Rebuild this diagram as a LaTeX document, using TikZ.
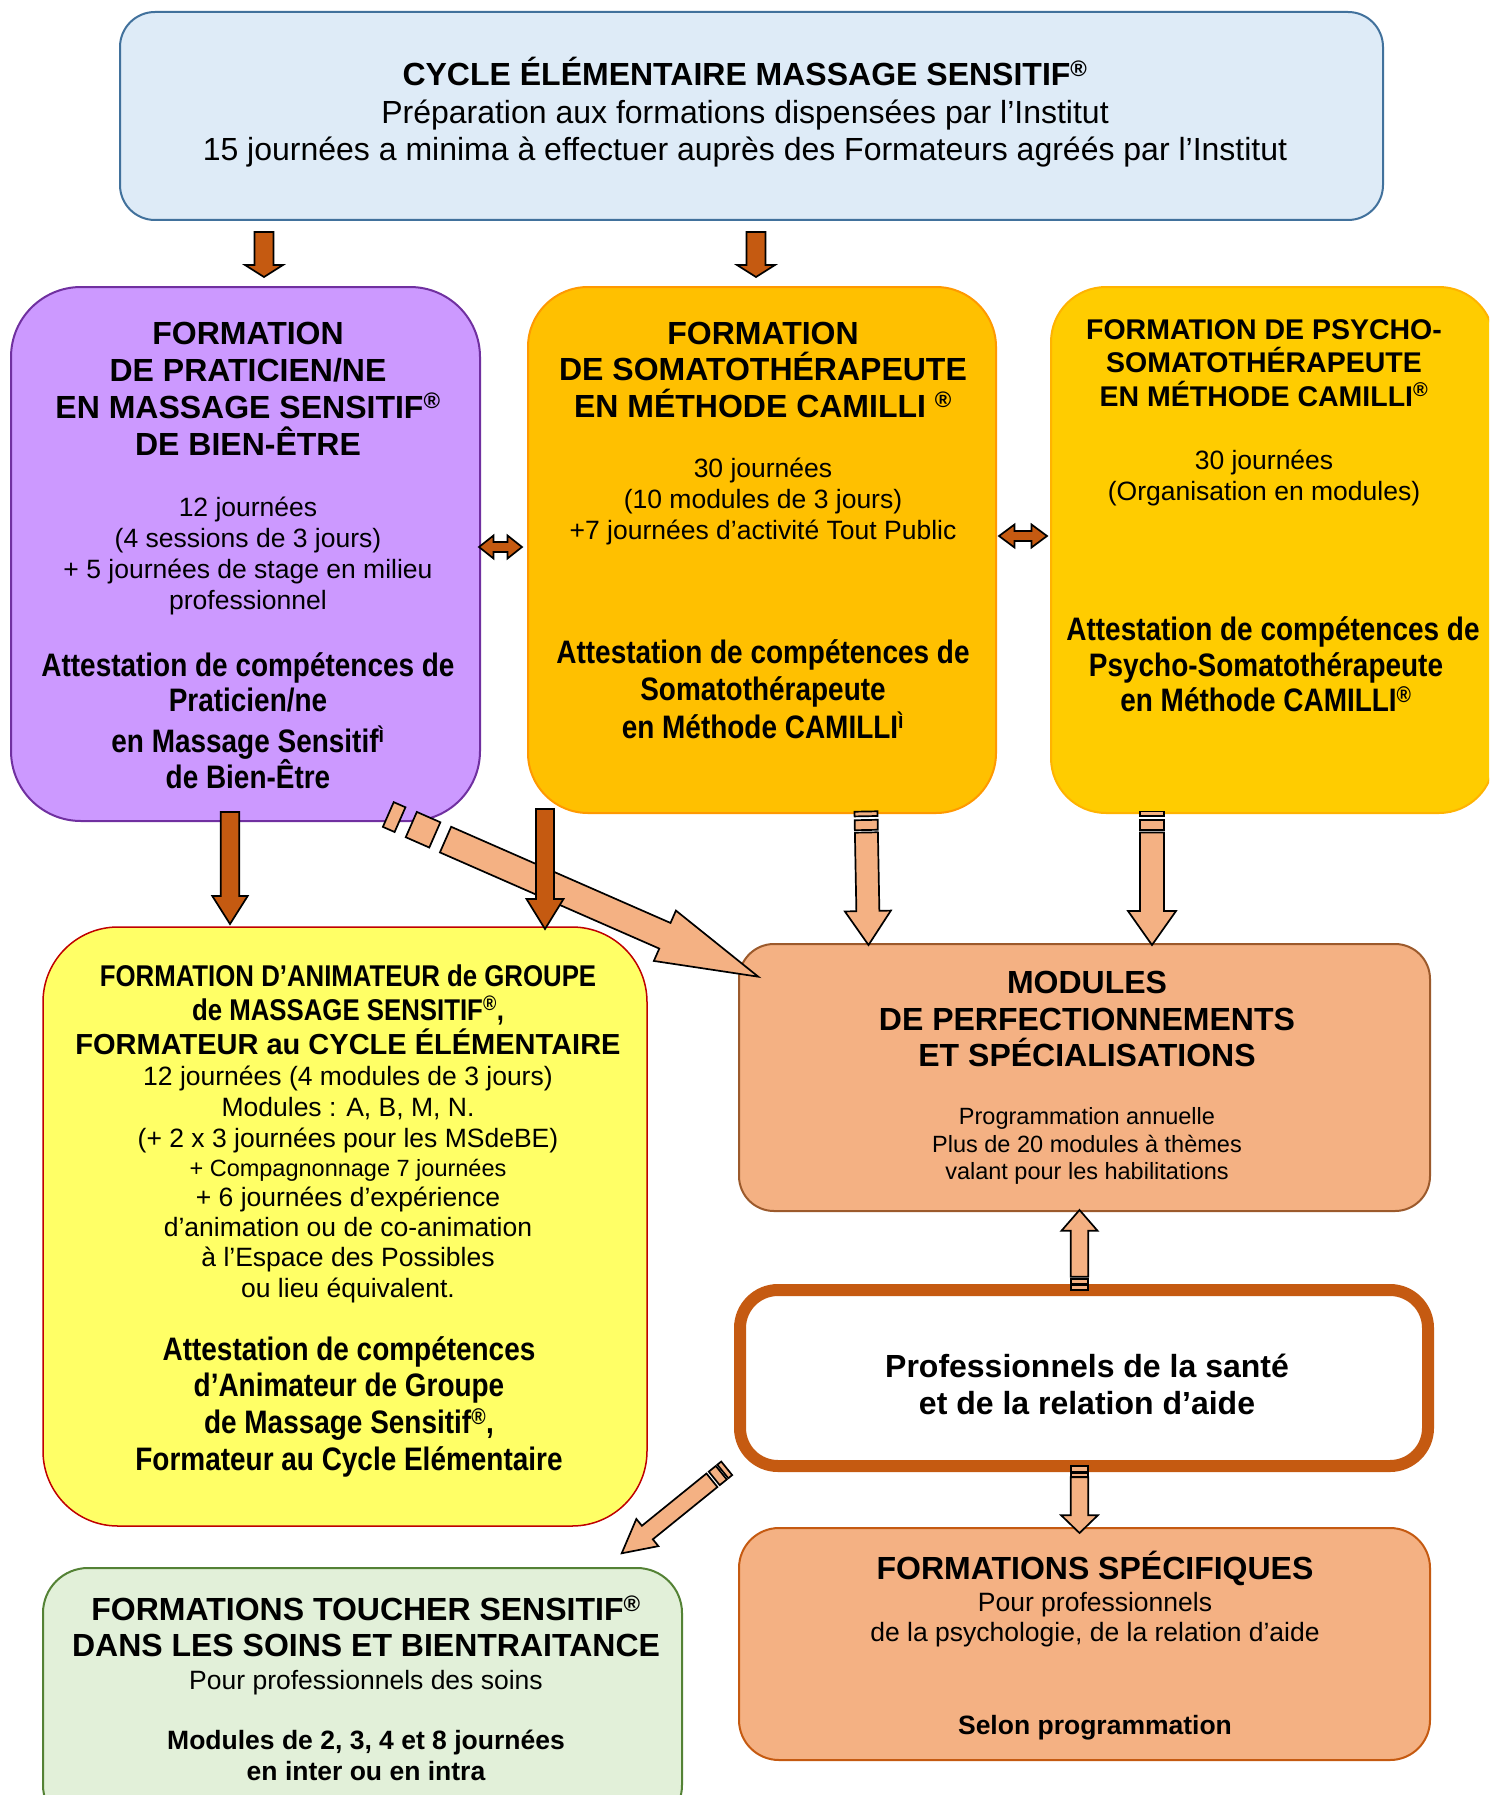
\documentclass[tikz,border=0pt]{standalone}
\usepackage{fontspec}
\setmainfont{Liberation Sans}
\newfontfamily\narrowfont[FakeStretch=0.86]{Liberation Sans}
\usetikzlibrary{calc}
\definecolor{topfill}{HTML}{DEEBF7}
\definecolor{topline}{HTML}{41719C}
\definecolor{purp}{HTML}{CC99FF}
\definecolor{purpline}{HTML}{7030A0}
\definecolor{orng}{HTML}{FFC000}
\definecolor{orngline}{HTML}{FF9900}
\definecolor{gold}{HTML}{FFCC00}
\definecolor{goldline}{HTML}{FFB300}
\definecolor{lyel}{HTML}{FFFF66}
\definecolor{redline}{HTML}{C00000}
\definecolor{salmon}{HTML}{F4B183}
\definecolor{brownline}{HTML}{9C5A2C}
\definecolor{rust}{HTML}{C55A11}
\definecolor{lgreen}{HTML}{E2F0D9}
\definecolor{greenline}{HTML}{548235}
% block arrow: tail, tip, shaft start, shaft half-width, head half-width, head length, fill
\newcommand{\barrow}[7]{%
  \coordinate (bs) at ($(#1)!#3!(#2)$);
  \coordinate (hb) at ($(#2)!#6!(#1)$);
  \draw[arrowshape, fill=#7] ($(bs)!#4!90:(#2)$) -- ($(hb)!#4!-90:(#1)$) -- ($(hb)!#5!-90:(#1)$) -- (#2) -- ($(hb)!#5!90:(#1)$) -- ($(hb)!#4!90:(#1)$) -- ($(bs)!#4!-90:(#2)$) -- cycle;}
% stripe: tail, tip, s1, s2, half-width
\newcommand{\bstripe}[5]{%
  \coordinate (ss) at ($(#1)!#3!(#2)$);
  \coordinate (se) at ($(#1)!#4!(#2)$);
  \draw[arrowshape, fill=salmon] ($(ss)!#5!90:(#2)$) -- ($(se)!#5!90:(#2)$) -- ($(se)!#5!-90:(#2)$) -- ($(ss)!#5!-90:(#2)$) -- cycle;}
% double arrow: end A, end B, shaft hw, head hw, head length, fill
\newcommand{\dbarrow}[6]{%
  \coordinate (ha) at ($(#1)!#5!(#2)$);
  \coordinate (hb) at ($(#2)!#5!(#1)$);
  \draw[arrowshape, fill=#6] (#1) -- ($(ha)!#4!90:(#2)$) -- ($(ha)!#3!90:(#2)$) -- ($(hb)!#3!-90:(#1)$) -- ($(hb)!#4!-90:(#1)$) -- (#2) -- ($(hb)!#4!90:(#1)$) -- ($(hb)!#3!90:(#1)$) -- ($(ha)!#3!-90:(#2)$) -- ($(ha)!#4!-90:(#2)$) -- cycle;}
% text lines: prefix, x, first baseline, spacing, style, list
\newcommand{\tlines}[6]{\foreach[count=\i] \ltxt in {#6}{\node[#5] (#1\i) at (#2,{#3+#4*(\i-1)}) {\ltxt};}}
\newcommand{\reg}{\textsuperscript{®}}
\begin{document}
\begin{tikzpicture}[x=1pt,y=-1pt,
  box/.style={rectangle, inner sep=0pt, line width=2pt},
  arrowshape/.style={draw=black, line width=1.7pt, line join=miter},
  tx/.style={anchor=base, inner sep=0pt},
  hb32/.style={tx, font=\fontsize{32}{38}\selectfont\bfseries},
  hb29/.style={tx, font=\fontsize{29}{34}\selectfont\bfseries},
  hb28/.style={tx, font=\fontsize{28.5}{33}\selectfont\bfseries},
  rg32/.style={tx, font=\fontsize{32}{38}\selectfont},
  rg26/.style={tx, font=\fontsize{26.5}{31}\selectfont},
  bd26/.style={tx, font=\fontsize{26.5}{31}\selectfont\bfseries},
  rg23/.style={tx, font=\fontsize{23.5}{28}\selectfont},
  nb31/.style={tx, font=\fontsize{32.5}{38}\selectfont\narrowfont\bfseries},
  nb29/.style={tx, font=\fontsize{30}{35}\selectfont\narrowfont\bfseries}]
\useasboundingbox (0,0) rectangle (1489,1795);
\clip (0,0) rectangle (1489,1795);
\fill[white] (0,0) rectangle (1489,1795);

% ---------- boxes ----------
\node[box, draw=topline, fill=topfill, rounded corners=35pt, minimum width=1263pt, minimum height=208pt] (top) at (751.5,116) {};
\node[box, draw=purpline, fill=purp, rounded corners=70pt, minimum width=469pt, minimum height=534pt] (prat) at (245.5,554) {};
\node[box, draw=orngline, fill=orng, rounded corners=60pt, minimum width=468pt, minimum height=526pt] (soma) at (762,550) {};
\node[box, draw=goldline, fill=gold, rounded corners=55pt, minimum width=443pt, minimum height=526pt] (psy) at (1272.5,550) {};
\node[box, draw=redline, fill=lyel, line width=1.5pt, rounded corners=75pt, minimum width=604pt, minimum height=599pt] (anim) at (345,1226.5) {};
\node[box, draw=brownline, fill=salmon, rounded corners=35pt, minimum width=691pt, minimum height=267pt] (mod) at (1084.5,1077.5) {};
\node[box, draw=rust, fill=white, line width=12pt, rounded corners=38pt, minimum width=688pt, minimum height=176pt] (pro) at (1084,1378) {};
\node[box, draw=rust, fill=salmon, rounded corners=40pt, minimum width=691pt, minimum height=232pt] (spe) at (1084.5,1644) {};
\node[box, draw=greenline, fill=lgreen, rounded corners=45pt, minimum width=639pt, minimum height=262pt] (tou) at (362.5,1699) {};

% ---------- texts ----------
\tlines{ta}{745}{86}{38}{hb32}{CYCLE ÉLÉMENTAIRE MASSAGE SENSITIF\reg}
\tlines{tb}{745}{124}{37}{rg32}{Préparation aux formations dispensées par l’Institut, 15 journées a minima à effectuer auprès des Formateurs agréés par l’Institut}

\tlines{pa}{248}{344}{37}{hb32}{FORMATION, DE PRATICIEN/NE, EN MASSAGE SENSITIF\reg, DE BIEN-ÊTRE}
\tlines{pb}{248}{516.5}{31}{rg26}{12 journées, (4 sessions de 3 jours), + 5 journées de stage en milieu, professionnel}
\node[nb31] (pc1) at (248,676) {Attestation de compétences de};
\node[nb31] (pc2) at (248,711) {Praticien/ne};
\node[nb31] (pc3) at (248,752) {en Massage Sensitif\textsuperscript{ì}};
\node[nb31] (pc4) at (248,788) {de Bien-Être};

\tlines{sa}{763}{344}{36.5}{hb32}{FORMATION, DE SOMATOTHÉRAPEUTE, EN MÉTHODE CAMILLI \reg}
\tlines{sb}{763}{477.5}{31}{rg26}{30 journées, (10 modules de 3 jours), +7 journées d’activité Tout Public}
\tlines{sc}{763}{663}{37.5}{nb31}{Attestation de compétences de, Somatothérapeute, en Méthode CAMILLI\textsuperscript{ì}}

\tlines{ya}{1264}{339}{33.5}{hb28}{FORMATION DE PSYCHO-, SOMATOTHÉRAPEUTE, EN MÉTHODE CAMILLI\reg}
\tlines{yb}{1264}{469.5}{31}{rg26}{30 journées, (Organisation en modules)}
\node[nb31] (yc1) at (1273,640.5) {Attestation de compétences de};
\node[nb31] (yc2) at (1266,676) {Psycho-Somatothérapeute};
\node[nb31] (yc3) at (1266,711.5) {en Méthode CAMILLI\reg};

\tlines{aa}{348}{986.5}{33.5}{nb29}{FORMATION D’ANIMATEUR de GROUPE, {de MASSAGE SENSITIF\reg,}}
\node[hb29] (ab) at (348,1054) {FORMATEUR au CYCLE ÉLÉMENTAIRE};
\tlines{ac}{348}{1085.5}{30.75}{rg26}{12 journées (4 modules de 3 jours), {Modules : A, B, M, N.}, (+ 2 x 3 journées pour les MSdeBE)}
\node[rg23] (ad) at (348,1176) {+ Compagnonnage 7 journées};
\tlines{ae}{348}{1206.5}{30.2}{rg26}{+ 6 journées d’expérience, d’animation ou de co-animation, à l’Espace des Possibles, ou lieu équivalent.}
\tlines{af}{349}{1360}{36.7}{nb31}{Attestation de compétences, d’Animateur de Groupe, {de Massage Sensitif\reg,}, Formateur au Cycle Elémentaire}

\tlines{ma}{1087}{993.5}{36.5}{hb32}{MODULES, DE PERFECTIONNEMENTS, ET SPÉCIALISATIONS}
\tlines{mb}{1087}{1124.5}{27.5}{rg23}{Programmation annuelle, Plus de 20 modules à thèmes, valant pour les habilitations}

\tlines{ra}{1087}{1377}{37.5}{hb32}{Professionnels de la santé, et de la relation d’aide}

\node[hb32] (fa) at (1095,1579.5) {FORMATIONS SPÉCIFIQUES};
\tlines{fb}{1095}{1611.5}{30}{rg26}{Pour professionnels, {de la psychologie, de la relation d’aide}}
\node[bd26] (fc) at (1095,1734.5) {Selon programmation};

\tlines{ga}{366}{1620.5}{35.5}{hb32}{FORMATIONS TOUCHER SENSITIF\reg, DANS LES SOINS ET BIENTRAITANCE}
\node[rg26] (gb) at (366,1689.5) {Pour professionnels des soins};
\tlines{gc}{366}{1749}{31}{bd26}{{Modules de 2, 3, 4 et 8 journées}, en inter ou en intra}

% ---------- arrow end points ----------
\coordinate (a1s) at (264,232);   \coordinate (a1e) at (264,277);
\coordinate (a2s) at (756,232);   \coordinate (a2e) at (756,277);
\coordinate (d1s) at (479,547);   \coordinate (d1e) at (522,547);
\coordinate (d2s) at (999,536);   \coordinate (d2e) at (1047,536);
\coordinate (b1s) at (230,812);   \coordinate (b1e) at (230,924);
\coordinate (b2s) at (545,809);   \coordinate (b2e) at (545,929);
\coordinate (g1s) at (388.3,814.5); \coordinate (g1e) at (758.3,976.7);
\coordinate (v1s) at (866,811.5); \coordinate (v1e) at (868.5,945);
\coordinate (v2s) at (1152,811.5); \coordinate (v2e) at (1152,945);
\coordinate (u1s) at (1079.5,1290); \coordinate (u1e) at (1079.5,1210);
\coordinate (w1s) at (1079.5,1466); \coordinate (w1e) at (1079.5,1533);
\coordinate (x1s) at (726.7,1468.3); \coordinate (x1e) at (621.7,1553.3);

% ---------- arrows ----------
\barrow{a1s}{a1e}{0pt}{9.5pt}{19pt}{12pt}{rust}
\barrow{a2s}{a2e}{0pt}{9.5pt}{19pt}{12pt}{rust}
\dbarrow{d1s}{d1e}{5pt}{11.5pt}{14.5pt}{rust}
\dbarrow{d2s}{d2e}{5pt}{11.5pt}{15.5pt}{rust}

% salmon diagonal (under dark arrow)
\bstripe{g1s}{g1e}{0pt}{12.8pt}{13.5pt}
\bstripe{g1s}{g1e}{25.1pt}{50.8pt}{13.8pt}
\barrow{g1s}{g1e}{62.5pt}{14pt}{27.5pt}{102pt}{salmon}

\barrow{b1s}{b1e}{0pt}{9.2pt}{17.7pt}{28pt}{rust}
\barrow{b2s}{b2e}{0pt}{9pt}{18.5pt}{30pt}{rust}

\bstripe{v1s}{v1e}{0pt}{4.7pt}{11.5pt}
\bstripe{v1s}{v1e}{8.5pt}{18.5pt}{11.5pt}
\barrow{v1s}{v1e}{21pt}{11.5pt}{23pt}{34pt}{salmon}
\bstripe{v2s}{v2e}{0pt}{4.7pt}{12pt}
\bstripe{v2s}{v2e}{8.5pt}{18.5pt}{12pt}
\barrow{v2s}{v2e}{21pt}{12pt}{24pt}{34pt}{salmon}

\bstripe{u1s}{u1e}{0pt}{5pt}{8.7pt}
\bstripe{u1s}{u1e}{6pt}{11pt}{8.7pt}
\barrow{u1s}{u1e}{13.3pt}{8.7pt}{18pt}{20.7pt}{salmon}

\bstripe{w1s}{w1e}{0pt}{5.7pt}{8.7pt}
\bstripe{w1s}{w1e}{6.7pt}{10.7pt}{8.7pt}
\barrow{w1s}{w1e}{11.3pt}{8.7pt}{18.3pt}{17.7pt}{salmon}

\bstripe{x1s}{x1e}{0pt}{5pt}{8.7pt}
\bstripe{x1s}{x1e}{7pt}{16pt}{8.7pt}
\barrow{x1s}{x1e}{19pt}{8.7pt}{17.5pt}{33pt}{salmon}
\end{tikzpicture}
\end{document}
